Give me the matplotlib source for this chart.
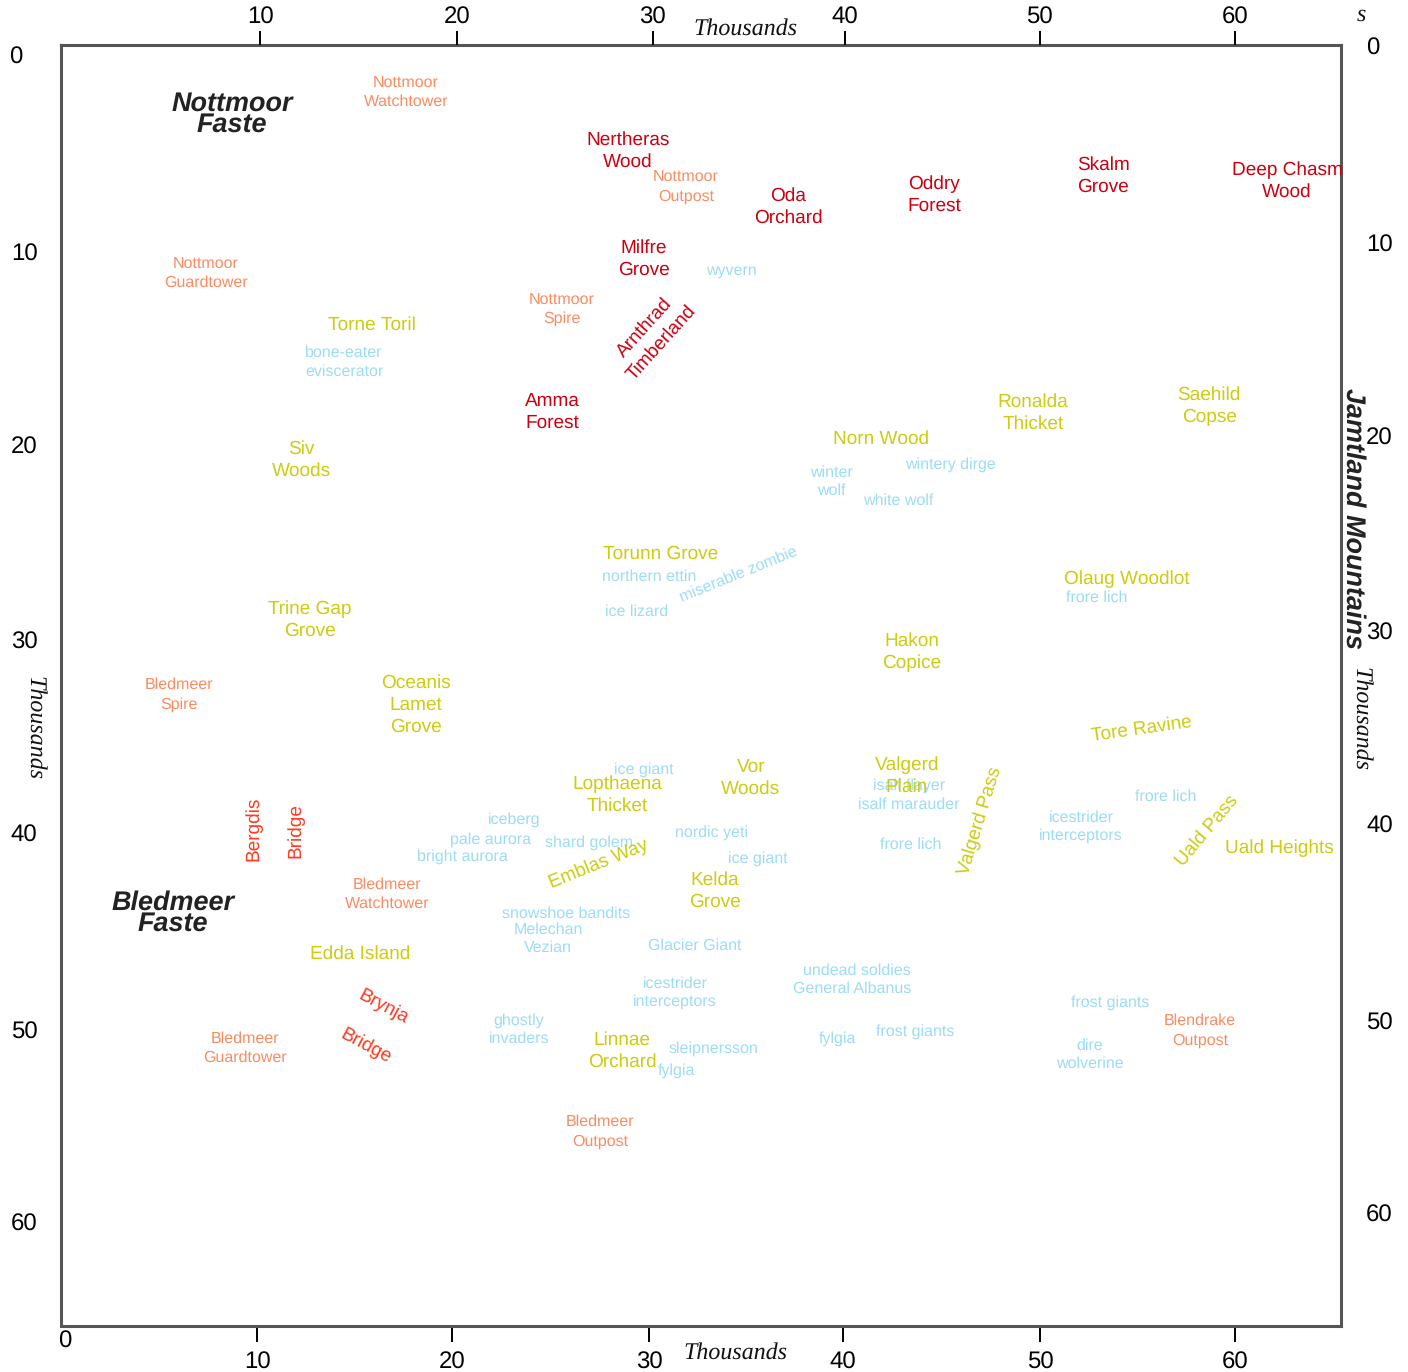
import matplotlib
matplotlib.use('Agg')
import matplotlib.pyplot as plt

plt.rcParams['font.family'] = ['Liberation Sans', 'DejaVu Sans']
plt.rcParams['text.hinting'] = 'no_hinting'
plt.rcParams['text.hinting_factor'] = 1

# places, in thousands: (name, x, y, rotation)
forests = [
    ('Nertheras\nWood', 29.0, 5.37, 0), ('Oda\nOrchard', 37.19, 8.24, 0),
    ('Oddry\nForest', 44.65, 7.62, 0), ('Skalm\nGrove', 53.3, 6.65, 0),
    ('Deep Chasm\nWood', 62.71, 6.91, 0), ('Milfre\nGrove', 29.82, 10.9, 0),
    ('Arnthrad\nTimberland', 30.28, 14.83, 48), ('Amma\nForest', 25.12, 18.72, 0),
]
outposts = [
    ('Nottmoor\nWatchtower', 17.65, 2.4, 0), ('Nottmoor\nOutpost', 31.97, 7.21, 0),
    ('Nottmoor\nGuardtower', 7.42, 11.66, 0), ('Nottmoor\nSpire', 25.63, 13.5, 0),
    ('Bledmeer\nSpire', 6.04, 33.2, 0), ('Bledmeer\nWatchtower', 16.68, 43.38, 0),
    ('Bledmeer\nGuardtower', 9.41, 51.3, 0), ('Blendrake\nOutpost', 58.26, 50.38, 0),
    ('Bledmeer\nOutpost', 27.57, 55.55, 0),
]
terrain = [
    ('Torne Toril', 15.91, 14.27, 0), ('Siv\nWoods', 12.28, 21.18, 0),
    ('Ronalda\nThicket', 49.72, 18.77, 0), ('Saehild\nCopse', 58.72, 18.41, 0),
    ('Norn Wood', 41.94, 20.1, 0), ('Torunn Grove', 30.69, 25.98, 0),
    ('Olaug Woodlot', 54.53, 27.26, 0), ('Trine Gap\nGrove', 12.74, 29.36, 0),
    ('Hakon\nCopice', 43.53, 31.0, 0), ('Oceanis\nLamet\nGrove', 18.16, 33.71, 0),
    ('Tore Ravine', 55.29, 34.99, 8), ('Vor\nWoods', 35.29, 37.44, 0),
    ('Lopthaena\nThicket', 28.44, 38.31, 0), ('Valgerd\nPlain', 43.27, 37.34, 0),
    ('Valgerd Pass', 47.01, 39.69, 73), ('Uald Pass', 58.62, 40.2, 50),
    ('Uald Heights', 62.3, 41.02, 0), ('Emblas Way', 27.52, 41.89, 22),
    ('Kelda\nGrove', 33.45, 43.22, 0), ('Edda Island', 15.29, 46.45, 0),
    ('Linnae\nOrchard', 28.7, 51.41, 0),
]
crossings = [
    ('Bergdis', 9.87, 40.1, 90), ('Bridge', 12.02, 40.2, 90),
    ('Brynja', 16.47, 49.21, -28), ('Bridge', 15.6, 51.2, -28),
]
monsters = [
    ('wyvern', 34.27, 11.51, 0), ('bone-eater\neviscerator', 14.48, 16.21, 0),
    ('winter\nwolf', 39.39, 22.3, 0), ('wintery dirge', 45.47, 21.43, 0),
    ('white wolf', 42.81, 23.27, 0), ('northern ettin', 30.08, 27.16, 0),
    ('miserable zombie', 34.68, 27.06, 22), ('ice lizard', 29.46, 28.95, 0),
    ('frore lich', 52.99, 28.24, 0), ('ice giant', 29.82, 37.03, 0),
    ('isalf flayer', 43.38, 37.85, 0), ('isalf marauder', 43.38, 38.82, 0),
    ('frore lich', 56.52, 38.41, 0), ('iceberg', 23.17, 39.59, 0),
    ('icestrider\ninterceptors', 52.17, 39.95, 0), ('nordic yeti', 33.25, 40.26, 0),
    ('pale aurora', 21.99, 40.61, 0), ('shard golem', 27.01, 40.77, 0),
    ('frore lich', 43.48, 40.87, 0), ('bright aurora', 20.51, 41.48, 0),
    ('ice giant', 35.65, 41.59, 0), ('snowshoe bandits', 25.83, 44.4, 0),
    ('Melechan\nVezian', 24.91, 45.68, 0), ('Glacier Giant', 32.43, 46.04, 0),
    ('undead soldies', 40.72, 47.31, 0), ('General Albanus', 40.46, 48.24, 0),
    ('icestrider\ninterceptors', 31.41, 48.44, 0), ('frost giants', 53.66, 48.95, 0),
    ('ghostly\ninvaders', 23.43, 50.33, 0), ('frost giants', 43.68, 50.43, 0),
    ('fylgia', 39.74, 50.79, 0), ('sleipnersson', 33.35, 51.3, 0),
    ('dire\nwolverine', 52.63, 51.61, 0), ('fylgia', 31.46, 52.43, 0),
]
regions = [
    ('Nottmoor\nFaste', 8.75, 3.5, 0), ('Bledmeer\nFaste', 5.73, 44.35, 0),
    ('Jamtland Mountains', 66.09, 24.2, -90),
]

bottom_ticks = [10.03, 20.0, 30.08, 40.0, 50.08, 60.05]
top_ticks = [10.2, 20.25, 30.27, 40.1, 50.05, 60.05]
left_ticks = [10.59, 20.46, 30.43, 40.31, 50.38, 60.2]
right_ticks = [0.05, 10.13, 20.0, 29.97, 39.85, 49.92, 59.74]
tick_labels = ['10', '20', '30', '40', '50', '60']

fig = plt.figure(figsize=(14.08, 13.72), dpi=100)
ax = fig.add_axes([61 / 1408, 1 - 1326 / 1372, 1280 / 1408, 1281 / 1372])
ax.set_xlim(0, 65.47)
ax.set_ylim(65.52, 0)
for spine in ax.spines.values():
    spine.set_linewidth(2.2)
    spine.set_color('#555555')

# every side has its own slightly shifted ticks
ax.set_xticks(bottom_ticks, tick_labels)
ax.tick_params(axis='x', length=11.5, width=1.4, pad=7, labelsize=17)
ax.set_yticks(left_ticks, tick_labels)
ax.tick_params(axis='y', length=0, pad=17, labelsize=17)

top = ax.twiny()
top.set_xlim(ax.get_xlim())
top.set_xticks(top_ticks, tick_labels)
top.tick_params(axis='x', length=10, width=1.4, pad=1.5, labelsize=17)
right = ax.twinx()
right.set_ylim(ax.get_ylim())
right.set_yticks(right_ticks, ['0'] + tick_labels)
right.tick_params(axis='y', length=0, pad=18, labelsize=17)
for a in (top, right):
    for spine in a.spines.values():
        spine.set_visible(False)

ax.text(0.2, 66.3, '0', fontsize=17, ha='center', va='center', clip_on=False)
ax.text(-2.3, 0.66, '0', fontsize=17, ha='center', va='center', clip_on=False)


def draw_labels(rows, color, size, spacing=1.29, shift=0.05, **kw):
    for name, x, y, rot in rows:
        # flat labels sit a little low, the box counts the descenders
        dy = shift if rot == 0 else 0
        ax.text(x, y + dy, name, color=color, fontsize=size, rotation=rot, ha='center', va='center',
                multialignment='center', rotation_mode='anchor', clip_on=False, zorder=5,
                linespacing=spacing, **kw)


draw_labels(monsters, '#9cdcf6', 11.6, spacing=1.32, shift=0.03)
draw_labels(outposts, '#fa8c62', 11.6, spacing=1.35, shift=0.03)
draw_labels(forests, '#cc0011', 13.5)
draw_labels(terrain, '#cccc11', 13.5)
draw_labels(crossings, '#ff3a20', 13.5)
draw_labels(regions, '#222222', 19.3, spacing=0.82, fontweight='bold', fontstyle='italic')

# axis names sit by hand around the frame
serif = dict(family='Liberation Serif', fontstyle='italic', fontsize=17.5, color='#111111',
             ha='center', va='center', clip_on=False)
ax.text(35.03, -0.82, 'Thousands', **serif)
ax.text(34.52, 66.9, 'Thousands', **serif)
ax.text(-1.35, 34.95, 'Thousands', rotation=-90, **serif)
ax.text(66.45, 34.45, 'Thousands', rotation=-90, **serif)
ax.text(66.5, -1.55, 's', **serif)

fig.savefig('out.png', dpi=100)
